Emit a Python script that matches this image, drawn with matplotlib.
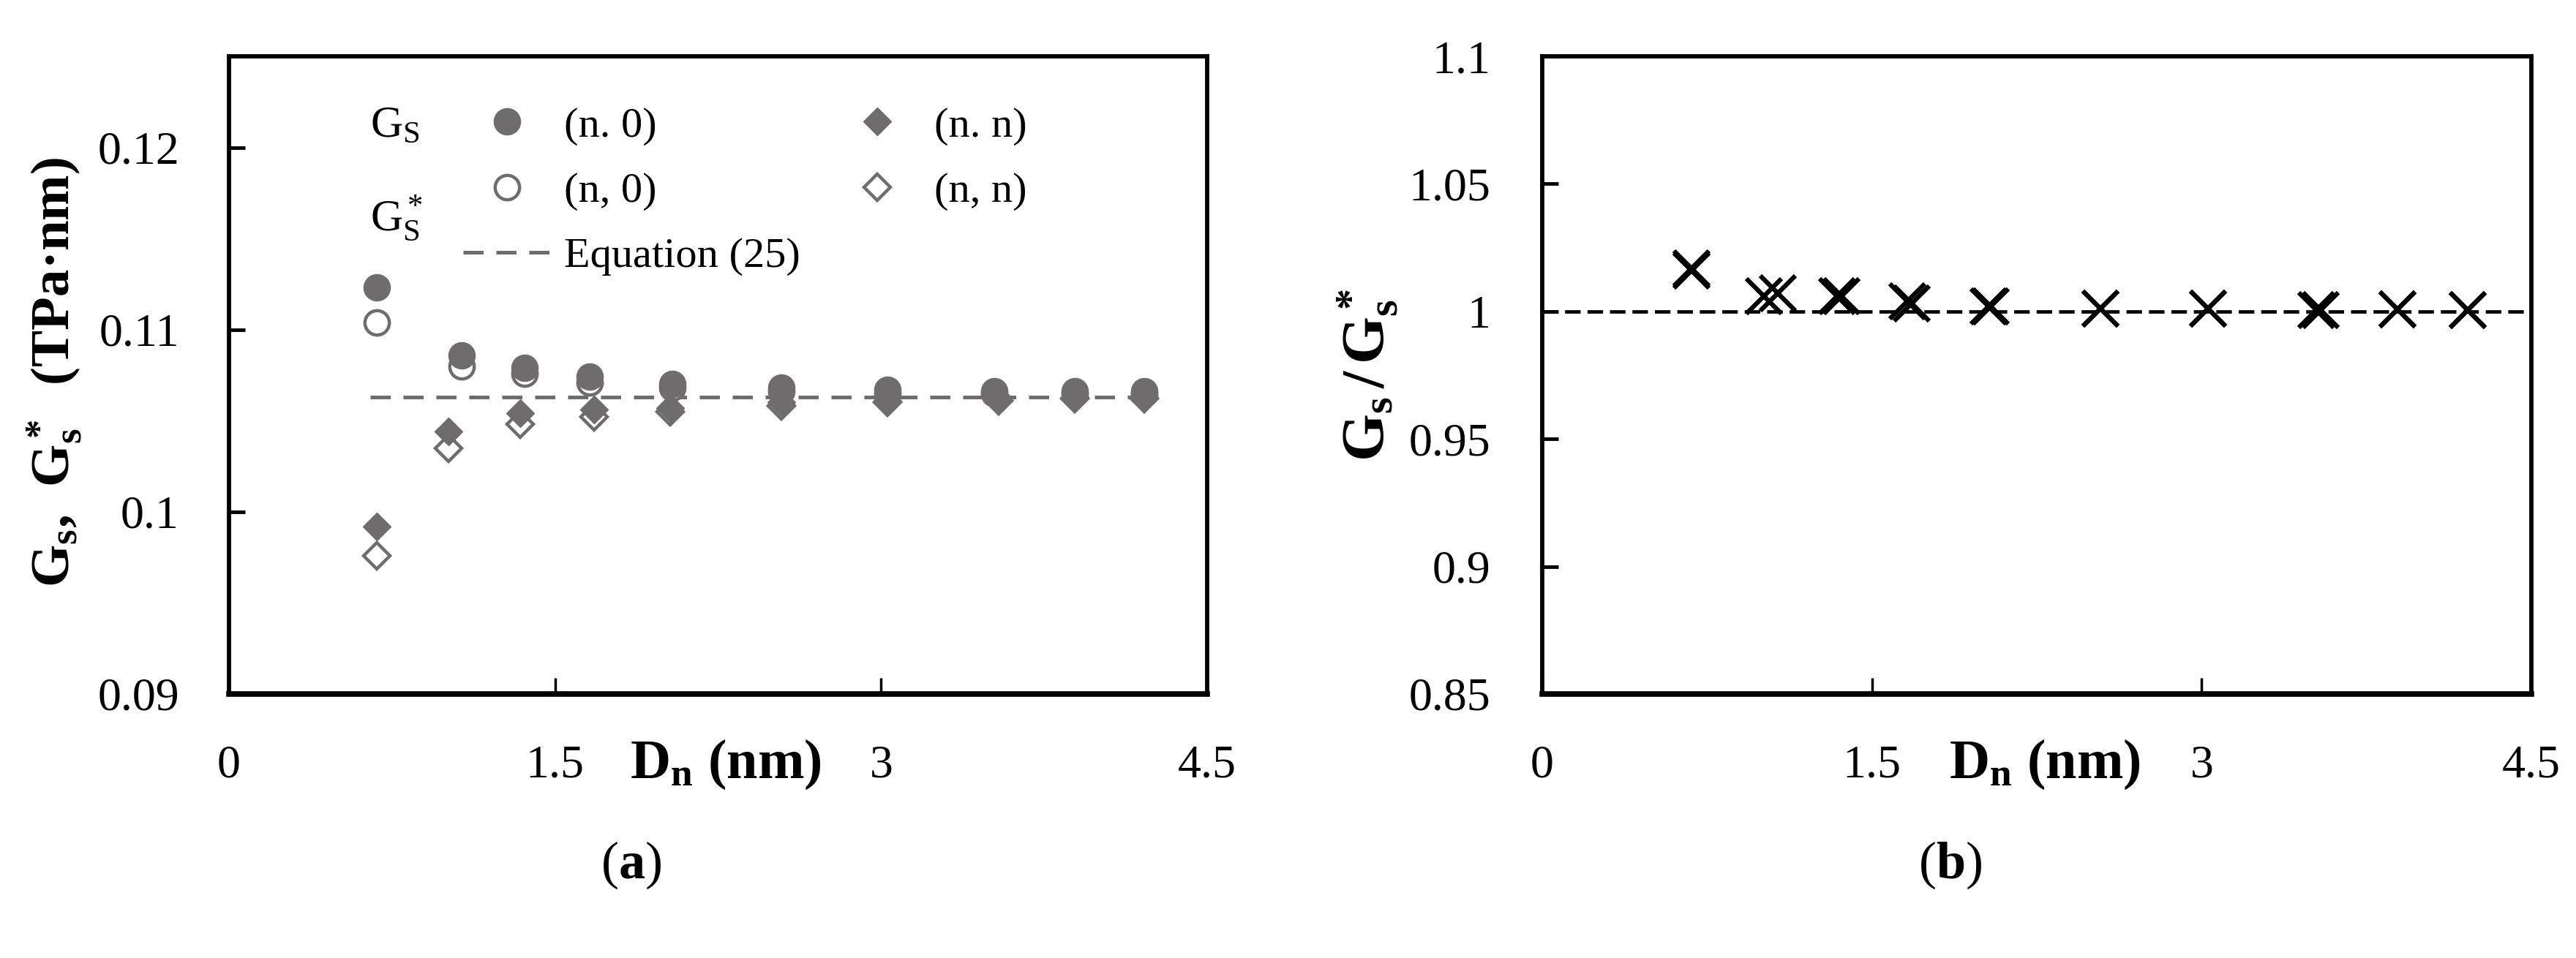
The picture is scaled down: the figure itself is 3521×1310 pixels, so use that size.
import matplotlib
matplotlib.use('Agg')
import matplotlib.pyplot as plt
from matplotlib.lines import Line2D

plt.rcParams['font.family'] = 'Liberation Serif'
plt.rcParams['mathtext.fontset'] = 'custom'
plt.rcParams['mathtext.rm'] = 'Liberation Serif'
plt.rcParams['mathtext.it'] = 'Liberation Serif:italic'
plt.rcParams['mathtext.bf'] = 'Liberation Serif:bold'

# Diametros dos nanotubos (nm): zigzag (n,0) e armchair (n,n)
d_zz = [0.68, 1.07, 1.36, 1.66, 2.04, 2.54, 3.03, 3.52, 3.89, 4.21]
d_ac = [0.68, 1.01, 1.34, 1.68, 2.03, 2.54, 3.03, 3.54, 3.89, 4.21]

# Painel (a): Gs e Gs* (TPa.nm)
gs_zz = [0.1123, 0.1086, 0.1079, 0.1074, 0.1070, 0.1068, 0.1067, 0.1066, 0.1066, 0.1066]
gs_star_zz = [0.1104, 0.1080, 0.1076, 0.1071, 0.1068, 0.1066, 0.1065, 0.1065, 0.1065, 0.1065]
gs_ac = [0.0992, 0.1044, 0.1054, 0.1056, 0.1057, 0.1060, 0.1061, 0.1062, 0.1063, 0.1063]
gs_star_ac = [0.0976, 0.1035, 0.1048, 0.1052, 0.1055, 0.1058, 0.1060, 0.1061, 0.1062, 0.1062]

# Equacao (25)
eq25_x = [0.65, 4.27]
eq25_y = [0.1063, 0.1063]

# Painel (b): Gs/Gs*
ratio_zz = [1.017, 1.007, 1.006, 1.004, 1.002, 1.001, 1.001, 1.0005, 1.0007, 1.0005]
ratio_ac = [1.016, 1.006, 1.006, 1.003, 1.002, 1.001, 1.001, 1.0005, 1.0007, 1.0005]

xticks = [0, 1.5, 3, 4.5]
xtick_labels = ['0', '1.5', '3', '4.5']
yticks_a = [0.09, 0.10, 0.11, 0.12]
ytick_labels_a = ['0.09', '0.1', '0.11', '0.12']
yticks_b = [0.85, 0.9, 0.95, 1.0, 1.05, 1.1]
ytick_labels_b = ['0.85', '0.9', '0.95', '1', '1.05', '1.1']

GRAY = '#6e6c6c'

fig = plt.figure(figsize=(35.21, 13.10), dpi=100)
ax1 = fig.add_axes([0.0889, 0.2756, 0.3797, 0.6656])
ax2 = fig.add_axes([0.5987, 0.2756, 0.3840, 0.6656])


def style_axes(ax, yticks, ylabels, ylim):
    ax.set_xlim(0, 4.5)
    ax.set_ylim(*ylim)
    ax.set_xticks(xticks)
    ax.set_xticklabels(xtick_labels)
    ax.set_yticks(yticks)
    ax.set_yticklabels(ylabels)
    for side in ['left', 'right', 'top']:
        ax.spines[side].set_linewidth(4.2)
    ax.spines['bottom'].set_linewidth(5.5)
    ax.tick_params(axis='y', direction='in', length=16, width=3.5, pad=49, labelsize=46)
    ax.tick_params(axis='x', direction='in', length=16, width=2.5, pad=50, labelsize=46)
    ax.set_xlabel(r'$\mathbf{D_n}$ (nm)', fontsize=55, fontweight='bold')
    ax.xaxis.set_label_coords(0.508, -0.068)


# ---- painel (a)
ax1.plot(eq25_x, eq25_y, color=GRAY, lw=3.6, dashes=[5.5, 3.5], zorder=1)
ax1.plot(d_zz, gs_star_zz, 'o', ms=24, mfc='white', mec=GRAY, mew=3.2, zorder=2)
ax1.plot(d_ac, gs_star_ac, 'D', ms=18, mfc='white', mec=GRAY, mew=3.2, zorder=2)
ax1.plot(d_zz, gs_zz, 'o', ms=26, mfc=GRAY, mec=GRAY, mew=1, zorder=3)
ax1.plot(d_ac, gs_ac, 'D', ms=19, mfc=GRAY, mec=GRAY, mew=1, zorder=3)

style_axes(ax1, yticks_a, ytick_labels_a, (0.09, 0.125))
ax1.set_ylabel(r'$\mathbf{G_s}$,  $\mathbf{G_s^*}$  (TPa·nm)', fontsize=54,
               fontweight='bold', va='center')
ax1.yaxis.set_label_coords(-0.178, 0.505)

handles = [
    Line2D([], [], ls='none', marker='o', ms=26, mfc=GRAY, mec=GRAY, mew=1),
    Line2D([], [], ls='none', marker='o', ms=24, mfc='white', mec=GRAY, mew=3.2),
    Line2D([], [], color=GRAY, lw=3.6, dashes=[5.5, 3.5]),
    Line2D([], [], ls='none', marker='D', ms=19, mfc=GRAY, mec=GRAY, mew=1),
    Line2D([], [], ls='none', marker='D', ms=18, mfc='white', mec=GRAY, mew=3.2),
]
labels = ['(n. 0)', '(n, 0)', 'Equation (25)', '(n. n)', '(n, n)']
ax1.legend(handles, labels, ncol=2, loc='upper left', bbox_to_anchor=(0.239, 0.921),
           frameon=False, fontsize=42, handlelength=2.08, handletextpad=0.29,
           labelspacing=0.62, columnspacing=0.77, borderpad=0, borderaxespad=0)
ax1.text(0.144, 0.874, r'G$_\mathrm{S}$', transform=ax1.transAxes, fontsize=44,
         va='baseline', ha='left')
ax1.text(0.144, 0.727, r'G$_\mathrm{S}^*$', transform=ax1.transAxes, fontsize=44,
         va='baseline', ha='left')

# ---- painel (b)
ax2.axhline(1.0, color='black', lw=3.4, dashes=[4.5, 2.0], zorder=1)
ax2.plot(d_zz, ratio_zz, 'x', ms=34, mec='black', mew=4.5, zorder=3)
ax2.plot(d_ac, ratio_ac, 'x', ms=34, mec='black', mew=4.5, zorder=3)

style_axes(ax2, yticks_b, ytick_labels_b, (0.85, 1.1))
ax2.tick_params(axis='y', pad=51)
ax2.set_ylabel(r'$\mathbf{G_s\,/\,G_s^*}$', fontsize=60, fontweight='bold', va='center')
ax2.yaxis.set_label_coords(-0.176, 0.5)

fig.text(0.245, 0.097, r'($\mathbf{a}$)', fontsize=52, ha='center', va='center')
fig.text(0.757, 0.097, r'($\mathbf{b}$)', fontsize=52, ha='center', va='center')

fig.savefig('out.png', dpi=100)
